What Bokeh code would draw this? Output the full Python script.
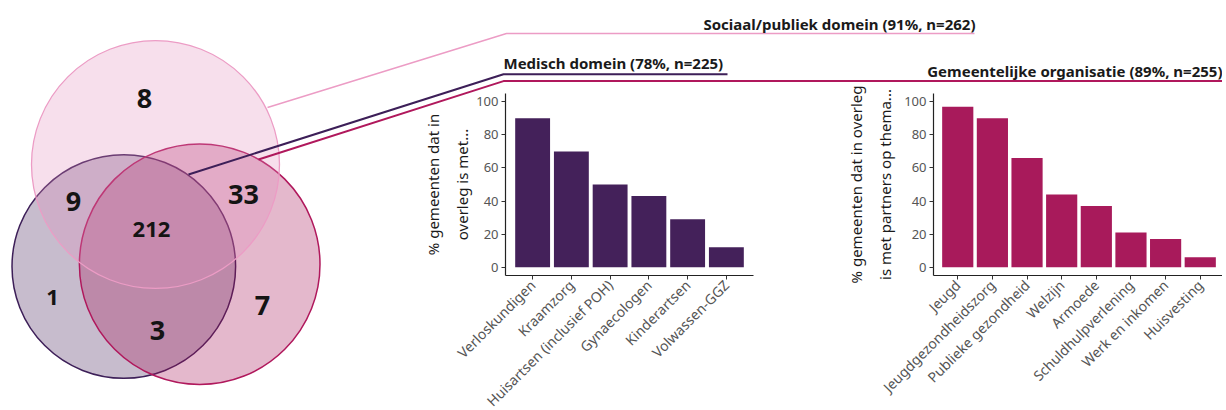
import math
from bokeh.plotting import figure
from bokeh.layouts import row, column
from bokeh.models import Range1d, FactorRange, FixedTicker, ColumnDataSource
from bokeh.core.properties import value
from bokeh.embed import file_html
from bokeh.resources import INLINE

# ---------------- data ----------------
domain_names = ["Medisch domein", "Gemeentelijke organisatie", "Sociaal/publiek domein"]
domain_pct = [78, 89, 91]
domain_n = [225, 255, 262]

# Venn regions: M = medisch, G = gemeentelijk, S = sociaal/publiek
venn_regions = ["S", "MS", "GS", "MGS", "M", "MG", "G"]
venn_counts = [8, 9, 33, 212, 1, 3, 7]

med_categories = ["Verloskundigen", "Kraamzorg", "Huisartsen (inclusief POH)",
                  "Gynaecologen", "Kinderartsen", "Volwassen-GGZ"]
med_values = [90, 70, 50, 43, 29, 12]

gem_categories = ["Jeugd", "Jeugdgezondheidszorg", "Publieke gezondheid", "Welzijn",
                  "Armoede", "Schuldhulpverlening", "Werk en inkomen", "Huisvesting"]
gem_values = [97, 90, 66, 44, 37, 21, 17, 6]

y_ticks = [0, 20, 40, 60, 80, 100]
med_ylabel = "% gemeenten dat in\noverleg is met..."
gem_ylabel = "% gemeenten dat in overleg\nis met partners op thema..."

# ---------------- styling / layout ----------------
FONT = "Noto Sans"
C_MED = "#44215a"
C_GEM = "#a81a5b"
C_SOC = "#e48cb9"
C_MED_LINE = "#3d1f58"
C_GEM_LINE = "#b0185c"
C_SOC_LINE = "#ec9cc5"

# circle geometry in page pixels: (cx, cy, r, fill, alpha, line colour, line width)
circles = {
    "M": (123.3, 266.0, 111.8, C_MED, 0.30, C_MED_LINE, 1.5),
    "G": (199.2, 263.7, 120.3, C_GEM, 0.31, C_GEM_LINE, 1.5),
    "S": (155.0, 164.0, 124.0, C_SOC, 0.28, C_SOC_LINE, 1.3),
}
label_pos = {"S": (144, 98, 27), "MS": (73, 201, 27), "GS": (243, 194, 27),
             "MGS": (151, 229, 22), "M": (52, 297, 22), "MG": (157, 330, 27),
             "G": (262, 305, 27)}
# connector lines: start on circle, bend, end
connectors = {
    "S": ([267, 506, 974], [107, 33, 33], C_SOC_LINE, 1.5),
    "M": ([188, 503, 727], [174, 73.8, 73.8], C_MED_LINE, 2.0),
    "G": ([258, 503, 1222], [159, 80.6, 80.6], C_GEM_LINE, 2.0),
}
titles = {
    "S": (975, 23.0, "right"),
    "M": (503, 62.0, "left"),
    "G": (1222, 70.0, "right"),
}

# ---------------- overlay figure (Venn, connectors, titles) ----------------
W, H = 1222, 410
ov = figure(width=W, height=H, x_range=Range1d(0, W), y_range=Range1d(H, 0),
            output_backend="svg", toolbar_location=None, x_axis_type=None, y_axis_type=None,
            min_border=0, outline_line_color=None)
ov.xgrid.visible = False
ov.ygrid.visible = False

for key in ["M", "G", "S"]:
    cx, cy, r, fc, fa, lc, lw = circles[key]
    ov.ellipse(x=[cx], y=[cy], width=[2 * r], height=[2 * r], fill_color=fc, fill_alpha=fa,
               line_color=lc, line_width=lw)

for reg, cnt in zip(venn_regions, venn_counts):
    x, y, fs = label_pos[reg]
    ov.text(x=[x], y=[y], text=[str(cnt)], text_font=value(FONT), text_font_size=f"{fs}px",
            text_font_style="bold", text_color="#141414", text_align="center",
            text_baseline="middle")

for key, name, pct, n in zip(["M", "G", "S"], domain_names, domain_pct, domain_n):
    xs, ys, lc, lw = connectors[key]
    ov.line(x=xs, y=ys, line_color=lc, line_width=lw)
    tx, ty, al = titles[key]
    ov.text(x=[tx], y=[ty], text=[f"{name} ({pct}%, n={n})"], text_font=value(FONT),
            text_font_size="15px", text_font_style="bold", text_color="#1a1a1a",
            text_align=al, text_baseline="alphabetic")


# ---------------- bar charts ----------------
BAR_TOP = 50          # page y where the bar figures start
FRAME_TOP = 93        # page y of the top of the plotting frame


def bar_chart(cats, vals, color, ylabel, frame_w, left, right, standoff):
    p = figure(x_range=FactorRange(*cats, range_padding=0.2, range_padding_units="absolute"),
               y_range=Range1d(-5, 105), frame_width=frame_w, frame_height=182,
               min_border_left=left, min_border_right=right,
               min_border_top=FRAME_TOP - BAR_TOP, min_border_bottom=0,
               output_backend="svg", toolbar_location=None,
               outline_line_color=None, background_fill_color=None, border_fill_color=None)
    p.xgrid.visible = False
    p.ygrid.visible = False
    src = ColumnDataSource(dict(cat=cats, val=vals))
    p.vbar(x="cat", top="val", bottom=0, width=0.9, source=src, fill_color=color, line_color=None)
    p.yaxis.ticker = FixedTicker(ticks=y_ticks)
    for ax in (p.xaxis[0], p.yaxis[0]):
        ax.axis_line_color = "#222222"
        ax.axis_line_width = 1.2
        ax.major_tick_line_color = "#333333"
        ax.major_tick_in = 0
        ax.major_tick_out = 4
        ax.minor_tick_line_color = None
        ax.major_label_text_font = FONT
        ax.major_label_text_color = "#555555"
        ax.major_label_standoff = 3
    p.yaxis.major_label_text_font_size = "13px"
    p.xaxis.major_label_text_font_size = "14px"
    p.xaxis.major_label_orientation = math.pi / 4
    p.yaxis.axis_label = ylabel
    p.yaxis.axis_label_text_font = FONT
    p.yaxis.axis_label_text_font_size = "15px"
    p.yaxis.axis_label_text_font_style = "normal"
    p.yaxis.axis_label_text_color = "#1a1a1a"
    p.yaxis.axis_label_text_line_height = 1.45
    p.yaxis.axis_label_standoff = standoff
    return p


b1 = bar_chart(med_categories, med_values, C_MED, med_ylabel, 248, 83, 64, 1)
b2 = bar_chart(gem_categories, gem_values, C_GEM, gem_ylabel, 291, 116, 0, 6)

bars = row(b1, b2, margin=(BAR_TOP - H, 0, -100, 420))
page = column(ov, bars, width=W, height=H, styles={"overflow": "hidden"})

open("out.html", "w").write(file_html(page, INLINE))
